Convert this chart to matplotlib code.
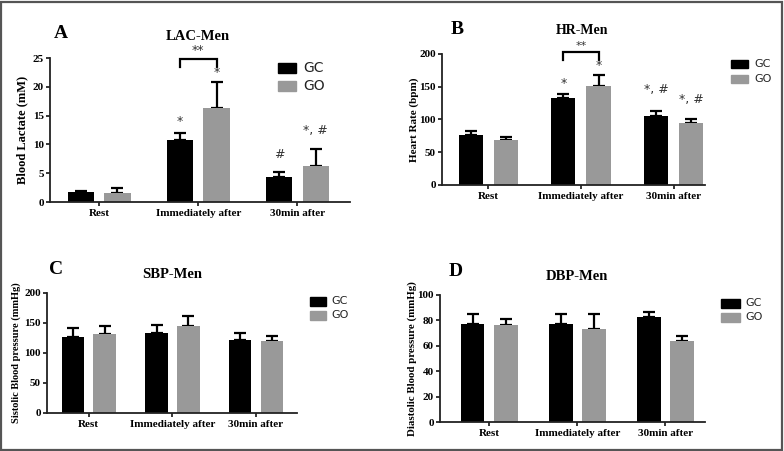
import numpy as np
import matplotlib
matplotlib.use('Agg')
import matplotlib.pyplot as plt
from matplotlib.patches import Rectangle

# data
groups = ['Rest', 'Immediately after', '30min after']
series = ['GC', 'GO']

lac_gc = [1.7, 10.8, 4.3]
lac_gc_err = [0.15, 1.2, 0.9]
lac_go = [1.6, 16.4, 6.3]
lac_go_err = [0.8, 4.4, 2.9]

hr_gc = [76, 133, 105]
hr_gc_err = [7, 6, 8]
hr_go = [68, 151, 94]
hr_go_err = [5, 17, 6]

sbp_gc = [126, 134, 121]
sbp_gc_err = [15, 12, 12]
sbp_go = [131, 145, 120]
sbp_go_err = [14, 17, 8]

dbp_gc = [76.8, 76.8, 83]
dbp_gc_err = [8.5, 8.5, 4]
dbp_go = [76, 73.4, 63.5]
dbp_go_err = [5, 11.5, 4.5]

GC_COL = '#000000'
GO_COL = '#999999'
W, H = 784, 451
SERIF = 'Liberation Serif'


def px_axes(fig, x0, x1, ytop, ybot):
    return fig.add_axes([x0 / W, 1 - ybot / H, (x1 - x0) / W, (ybot - ytop) / H])


def panel(fig, box, gc, gce, go, goe, yticks, xlim, off, width, title, ylabel,
          letter, letter_xy, title_xy, ylab_x, legend_xy, leg_fs, ylab_fs=8,
          title_fs=10.5):
    ax = px_axes(fig, *box)
    x = np.arange(len(groups))
    ax.bar(x - off, gc, width, color=GC_COL, zorder=2)
    ax.bar(x + off, go, width, color=GO_COL, zorder=2)
    ax.errorbar(x - off, gc, yerr=[np.zeros(3), gce], fmt='none', ecolor='black',
                elinewidth=1.6, capsize=4, capthick=1.6, zorder=1)
    ax.errorbar(x + off, go, yerr=[np.zeros(3), goe], fmt='none', ecolor='black',
                elinewidth=1.6, capsize=4, capthick=1.6, zorder=1)
    ax.set_xlim(*xlim)
    ax.set_ylim(yticks[0], yticks[-1])
    ax.set_yticks(yticks)
    ax.set_xticks(x)
    ax.set_xticklabels(groups)
    for s in ['top', 'right']:
        ax.spines[s].set_visible(False)
    for s in ['left', 'bottom']:
        ax.spines[s].set_linewidth(1.3)
        ax.spines[s].set_color('#222222')
    ax.tick_params(length=3, width=1.1, pad=2, labelsize=8)
    ax.tick_params(axis='y', pad=1.5)
    for lab in ax.get_xticklabels() + ax.get_yticklabels():
        lab.set_fontfamily(SERIF)
        lab.set_fontweight('bold')
    fig.text(letter_xy[0] / W, 1 - letter_xy[1] / H, letter, fontsize=14,
             fontweight='bold', family=SERIF, ha='center', va='center')
    fig.text(title_xy[0] / W, 1 - title_xy[1] / H, title, fontsize=title_fs,
             fontweight='bold', family=SERIF, ha='center', va='center')
    fig.text(ylab_x / W, 1 - (box[2] + box[3]) / 2 / H, ylabel, fontsize=ylab_fs,
             fontweight='bold', family=SERIF, rotation=90, ha='center', va='center')
    # legend
    lx, ly, pw, ph, gap, tgap = legend_xy
    for i, (name, col) in enumerate(zip(series, [GC_COL, GO_COL])):
        yy = ly + i * gap
        fig.patches.append(Rectangle((lx / W, 1 - (yy + ph) / H), pw / W, ph / H,
                                     transform=fig.transFigure, color=col))
        fig.text((lx + pw + tgap) / W, 1 - (yy + ph / 2) / H, name, fontsize=leg_fs,
                 family='DejaVu Sans', ha='left', va='center', color='#222222')
    return ax


def star(ax, x, y, s, fs=9):
    ax.text(x, y, s, ha='center', va='center', fontsize=fs, color='#333333',
            family='DejaVu Sans')


def bracket(ax, x0, x1, ytop, ybot):
    ax.plot([x0, x0, x1, x1], [ybot, ytop, ytop, ybot], color='black', lw=1.6,
            clip_on=False, solid_joinstyle='miter')


fig = plt.figure(figsize=(7.84, 4.51), dpi=100)

axA = panel(fig, (50, 350, 58, 202), lac_gc, lac_gc_err, lac_go, lac_go_err,
            [0, 5, 10, 15, 20, 25], (-0.495, 2.53), 0.185, 0.265, 'LAC-Men',
            'Blood Lactate (mM)', 'A', (61, 33), (198, 37), 22,
            (278, 63, 18, 10, 18, 7), 10, ylab_fs=9)
bracket(axA, 1 - 0.185, 1 + 0.185, 24.8, 23.4)
star(axA, 1, 26.3, '**')
star(axA, 1 - 0.185, 14.0, '*')
star(axA, 1 + 0.185, 22.4, '*')
star(axA, 2 - 0.185, 8.2, '#')
star(axA, 2 + 0.185, 12.4, '*, #')

axB = panel(fig, (442, 705, 54, 185), hr_gc, hr_gc_err, hr_go, hr_go_err,
            [0, 50, 100, 150, 200], (-0.5, 2.34), 0.19, 0.26, 'HR-Men',
            'Heart Rate (bpm)', 'B', (457, 30), (582, 31), 414,
            (731, 60, 17, 8, 15, 6), 8, title_fs=10)
bracket(axB, 1 - 0.19, 1 + 0.19, 202.5, 191)
star(axB, 1, 212, '**', fs=8)
star(axB, 1 - 0.19, 155, '*')
star(axB, 1 + 0.19, 182, '*')
star(axB, 2 - 0.19, 146, '*, #')
star(axB, 2 + 0.19, 131, '*, #')

panel(fig, (47, 297, 293, 413), sbp_gc, sbp_gc_err, sbp_go, sbp_go_err,
      [0, 50, 100, 150, 200], (-0.5, 2.49), 0.19, 0.27, 'SBP-Men',
      'Sistolic Blood pressure (mmHg)', 'C', (56, 270), (172, 275), 16,
      (310, 297, 16, 9, 14, 5), 8, ylab_fs=7.5)

panel(fig, (440, 705, 295, 422), dbp_gc, dbp_gc_err, dbp_go, dbp_go_err,
      [0, 20, 40, 60, 80, 100], (-0.56, 2.45), 0.19, 0.27, 'DBP-Men',
      'Diastolic Blood pressure (mmHg)', 'D', (456, 272), (577, 277), 412,
      (721, 299, 19, 9, 14, 5), 8, ylab_fs=7.8)

# grey frame round the whole figure
fig.patches.append(Rectangle((1 / W, 1 / H), (W - 3) / W, (H - 3) / H,
                             transform=fig.transFigure, fill=False,
                             edgecolor='#555555', linewidth=1.6))

fig.savefig('out.png', dpi=100)
